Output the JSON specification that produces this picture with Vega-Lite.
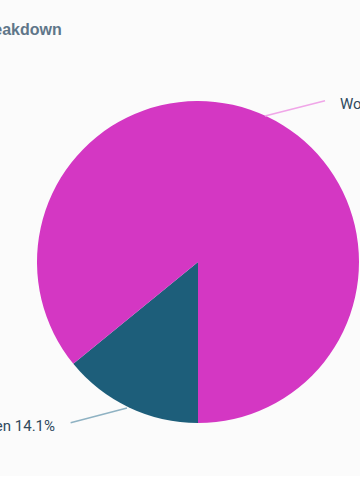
{
  "$schema": "https://vega.github.io/schema/vega-lite/v6.json",
  "autosize": {"type": "none"},
  "padding": {"top": 48, "left": 0, "right": 0, "bottom": 0},
  "width": 396,
  "height": 428,
  "background": "#fbfbfb",
  "config": {"view": {"stroke": null}, "font": "Liberation Sans"},
  "title": {
    "text": "Gender Breakdown",
    "anchor": "start",
    "frame": "group",
    "dx": -85,
    "offset": 10,
    "fontSize": 16,
    "fontWeight": "bold",
    "color": "#5f7689",
    "font": "Liberation Sans"
  },
  "datasets": {
    "slices": [
      {"gender": "Men", "share": 14.1},
      {"gender": "Women", "share": 85.9}
    ],
    "leaders": [
      {"gender": "Women", "pt": 0, "x": 0.416, "y": 0.907},
      {"gender": "Women", "pt": 1, "x": 0.789, "y": 1.002},
      {"gender": "Men", "pt": 0, "x": -0.441, "y": -0.907},
      {"gender": "Men", "pt": 1, "x": -0.791, "y": -0.998}
    ],
    "labels": [
      {"gender": "Women", "share": 85.9, "x": 0.882, "y": 0.981},
      {"gender": "Men", "share": 14.1, "x": -0.888, "y": -1.019}
    ]
  },
  "layer": [
    {
      "data": {"name": "slices"},
      "mark": {"type": "arc", "outerRadius": 161, "stroke": null},
      "encoding": {
        "theta": {"field": "share", "type": "quantitative", "stack": true, "scale": {"range": [3.14159265, 9.42477796]}},
        "color": {"field": "gender", "type": "nominal", "legend": null,
          "scale": {"domain": ["Men", "Women"], "range": ["#1d5e7a", "#d437c3"]}},
        "order": {"field": "gender", "sort": "ascending"}
      }
    },
    {
      "data": {"name": "leaders"},
      "mark": {"type": "line", "strokeWidth": 1.5, "interpolate": "monotone"},
      "encoding": {
        "x": {"field": "x", "type": "quantitative", "axis": null, "scale": {"domain": [-1.2298, 1.2298], "nice": false, "zero": false}},
        "y": {"field": "y", "type": "quantitative", "axis": null, "scale": {"domain": [-1.3292, 1.3292], "nice": false, "zero": false}},
        "detail": {"field": "gender"},
        "order": {"field": "pt"},
        "stroke": {"field": "gender", "type": "nominal", "legend": null,
          "scale": {"domain": ["Men", "Women"], "range": ["#8fb2c3", "#f0a6e8"]}}
      }
    },
    {
      "data": {"name": "labels"},
      "transform": [{"calculate": "datum.gender + ' ' + format(datum.share, '.1f') + '%'", "as": "label"}],
      "mark": {"type": "text", "font": "Roboto", "fontSize": 15, "color": "#2f495d", "baseline": "middle",
        "align": {"expr": "datum.x > 0 ? 'left' : 'right'"}},
      "encoding": {
        "x": {"field": "x", "type": "quantitative"},
        "y": {"field": "y", "type": "quantitative"},
        "text": {"field": "label"}
      }
    }
  ]
}
